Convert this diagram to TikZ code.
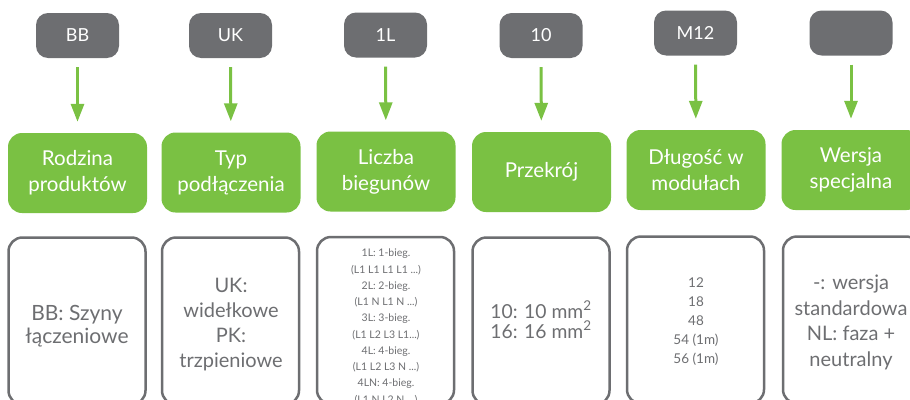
\documentclass[tikz,border=0pt]{standalone}
\usepackage{fontspec}
\setmainfont{Lato}
\usetikzlibrary{arrows.meta}
\definecolor{grayc}{HTML}{6D6E71}
\definecolor{greenc}{HTML}{7AC143}
\tikzset{
  graybox/.style={rounded corners=12pt, fill=grayc, text=white, minimum width=83pt, minimum height=45pt, inner sep=0pt, font=\fontsize{18}{20}\selectfont},
  greenbox/.style={rounded corners=14pt, fill=greenc, text=white, minimum width=139pt, minimum height=80pt, inner sep=0pt, align=center, font=\fontsize{20.5}{26}\selectfont},
  infobox/.style={draw=grayc, line width=2.5pt, rounded corners=14pt, minimum width=137pt, minimum height=167pt, inner sep=0pt},
  infotext/.style={text=grayc, align=center, inner sep=0pt, anchor=base},
  arr/.style={draw=greenc, line width=3pt, -{Triangle[width=13pt,length=18pt]}, shorten <=9pt, shorten >=11pt},
}
\begin{document}
\begin{tikzpicture}[x=1pt,y=-1pt]
\useasboundingbox (0,0) rectangle (910,399);
\clip (0,0) rectangle (910,399);
% gray code boxes
\node[graybox] (g1) at (77.5,35.5) {BB};
\node[graybox] (g2) at (230.5,35.5) {UK};
\node[graybox] (g3) at (385.5,35) {1L};
\node[graybox] (g4) at (541,35.5) {10};
\node[graybox] (g5) at (695.5,33) {M12};
\node[graybox] (g6) at (851,33) {};
% green category boxes
\node[greenbox] (n1) at (77.5,173) {Rodzina\\produktów};
\node[greenbox] (n2) at (231,172.5) {Typ\\podłączenia};
\node[greenbox] (n3) at (386,171.5) {Liczba\\biegunów};
\node[greenbox] (n4) at (541.5,172) {Przekrój};
\node[greenbox] (n5) at (696,170) {Długość w\\modułach};
\node[greenbox] (n6) at (851,170) {Wersja\\specjalna};
% arrows
\foreach \i in {1,...,6} \draw[arr] (g\i) -- (n\i);
% info boxes
\node[infobox] (b1) at (77,321) {};
\node[infobox] (b2) at (230.5,321) {};
\node[infobox] (b3) at (385.5,320.5) {};
\node[infobox] (b4) at (541,321) {};
\node[infobox] (b5) at (695.5,320) {};
\node[infobox] (b6) at (851.5,320) {};
% info texts (anchor base = baseline of last line)
\node[infotext, font=\fontsize{21}{23}\selectfont] (t1) at (77,343) {BB: Szyny\\łączeniowe};
\node[infotext, font=\fontsize{20}{25}\selectfont] (t2) at (231,367) {UK:\\widełkowe\\PK:\\trzpieniowe};
\node[infotext, font=\fontsize{10.5}{16.25}\selectfont] (t3) at (386,403) {1L: 1-bieg.\\(L1 L1 L1 L1 ...)\\2L: 2-bieg.\\(L1 N L1 N ...)\\3L: 3-bieg.\\(L1 L2 L3 L1...)\\4L: 4-bieg.\\(L1 L2 L3 N ...)\\4LN: 4-bieg.\\(L1 N L2 N ...)};
\node[infotext, font=\fontsize{19.3}{20}\selectfont] (t4) at (541,338) {10: 10 mm\textsuperscript{2}\\16: 16 mm\textsuperscript{2}};
\node[infotext, font=\fontsize{13.5}{19}\selectfont] (t5) at (696,363) {12\\18\\48\\54 (1m)\\56 (1m)};
\node[infotext, font=\fontsize{20}{25.7}\selectfont] (t6) at (851,366.5) {-: wersja\\standardowa\\NL: faza +\\neutralny};
\end{tikzpicture}
\end{document}
